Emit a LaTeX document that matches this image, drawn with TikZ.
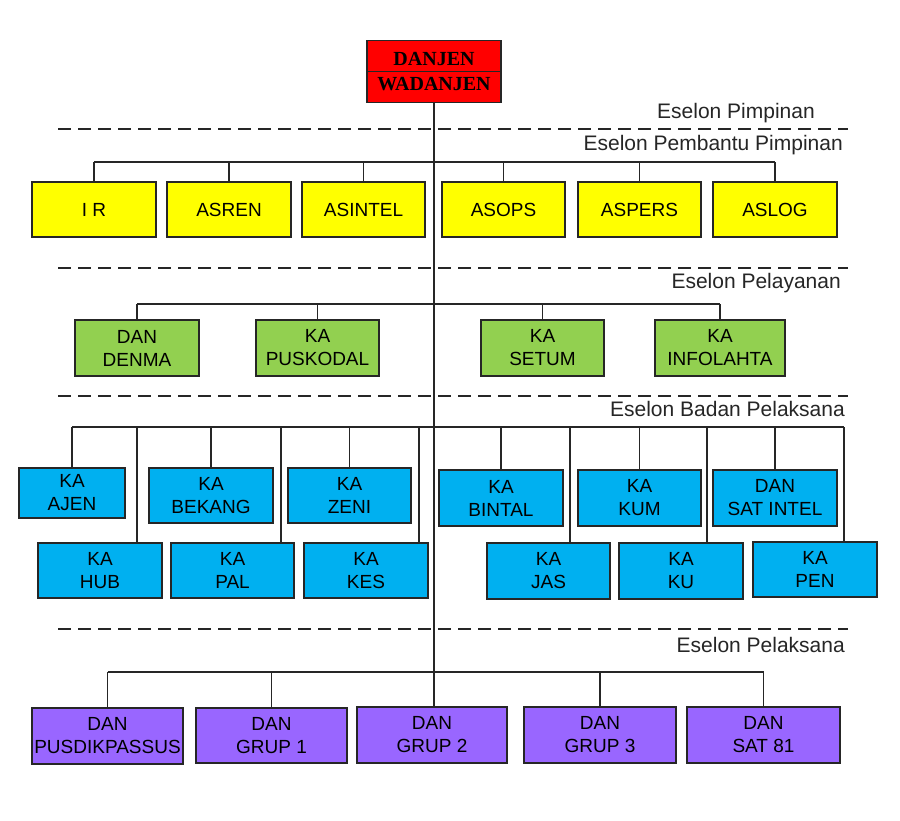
\documentclass[tikz,border=0pt]{standalone}
\usepackage{fontspec}
\setmainfont{Liberation Sans}
\newfontfamily\serifbold{Liberation Serif}
\definecolor{cyel}{HTML}{FFFF00}
\definecolor{cgrn}{HTML}{92D050}
\definecolor{cblu}{HTML}{00B0F0}
\definecolor{cpur}{HTML}{9966FF}
\definecolor{cred}{HTML}{FF0000}
\definecolor{cline}{HTML}{262626}
\begin{document}
\begin{tikzpicture}[x=1pt,y=-1pt,
  box/.style={draw=cline, line width=1.5pt, rectangle, inner sep=0pt, align=center,
    text=black, font=\fontsize{19}{23}\selectfont},
  wh/.style 2 args={minimum width=#1, minimum height=#2},
  ybox/.style={box, fill=cyel},
  gbox/.style={box, fill=cgrn},
  bbox/.style={box, fill=cblu},
  pbox/.style={box, fill=cpur},
  conn/.style={draw=cline, line width=1.5pt},
  sep/.style={draw=cline, line width=2pt, dash pattern=on 13pt off 7pt},
  eselon/.style={anchor=base east, inner sep=0pt, text=black!85, font=\fontsize{21}{25}\selectfont}]
\useasboundingbox[fill=white] (0,0) rectangle (900,820);

% top
\node[box, fill=cred, wh={134}{62}, font=\serifbold\bfseries\fontsize{20}{25}\selectfont] (top) at (434,71.5) {DANJEN\\WADANJEN};
\draw[conn] (top.west) -- (top.east);

% separators
\coordinate (s1a) at (58,129); \coordinate (s1b) at (848,129);
\coordinate (s2a) at (58,268); \coordinate (s2b) at (848,268);
\coordinate (s3a) at (58,396); \coordinate (s3b) at (848,396);
\coordinate (s4a) at (58,629); \coordinate (s4b) at (848,629);
\draw[sep] (s1a) -- (s1b);
\draw[sep] (s2a) -- (s2b);
\draw[sep] (s3a) -- (s3b);
\draw[sep] (s4a) -- (s4b);

\node[eselon] (e1) at (815,118) {Eselon Pimpinan};
\node[eselon] (e2) at (843,150) {Eselon Pembantu Pimpinan};
\node[eselon] (e3) at (841,288) {Eselon Pelayanan};
\node[eselon] (e4) at (845,416) {Eselon Badan Pelaksana};
\node[eselon] (e5) at (845,652) {Eselon Pelaksana};

% yellow row
\node[ybox, wh={124}{55}] (ir) at (94,209.5) {I R};
\node[ybox, wh={124}{55}] (asren) at (229,209.5) {ASREN};
\node[ybox, wh={123}{55}] (asintel) at (363.5,209.5) {ASINTEL};
\node[ybox, wh={123}{55}] (asops) at (503.5,209.5) {ASOPS};
\node[ybox, wh={123}{55}] (aspers) at (639.5,209.5) {ASPERS};
\node[ybox, wh={124}{55}] (aslog) at (775,209.5) {ASLOG};

% green row
\node[gbox, wh={124}{56}] (denma) at (137,348) {DAN\\DENMA};
\node[gbox, wh={123}{56}] (puskodal) at (317.5,348) {KA\\PUSKODAL};
\node[gbox, wh={123}{56}] (setum) at (542.5,348) {KA\\SETUM};
\node[gbox, wh={130}{56}] (infolahta) at (720,348) {KA\\INFOLAHTA};

% blue rows
\node[bbox, wh={106}{50}] (ajen) at (72,493) {KA\\AJEN};
\node[bbox, wh={124}{55}] (bekang) at (211,495.5) {KA\\BEKANG};
\node[bbox, wh={123}{55}] (zeni) at (349.5,495.5) {KA\\ZENI};
\node[bbox, wh={124}{56}] (bintal) at (501,498) {KA\\BINTAL};
\node[bbox, wh={123}{56}] (kum) at (639.5,498) {KA\\KUM};
\node[bbox, wh={124}{56}] (satintel) at (775,498) {DAN\\SAT INTEL};

\node[bbox, wh={124}{55}] (hub) at (100,570.5) {KA\\HUB};
\node[bbox, wh={123}{55}] (pal) at (232.5,570.5) {KA\\PAL};
\node[bbox, wh={124}{55}] (kes) at (366,570.5) {KA\\KES};
\node[bbox, wh={123}{56}] (jas) at (548.5,571) {KA\\JAS};
\node[bbox, wh={124}{56}] (ku) at (681,571) {KA\\KU};
\node[bbox, wh={124}{55}] (pen) at (815,569.5) {KA\\PEN};

% purple row
\node[pbox, wh={151}{56}] (pusdik) at (107.5,736) {DAN\\PUSDIKPASSUS};
\node[pbox, wh={151}{55}] (grup1) at (271.5,735.5) {DAN\\GRUP 1};
\node[pbox, wh={150}{56}] (grup2) at (432,735) {DAN\\GRUP 2};
\node[pbox, wh={152}{56}] (grup3) at (600,735) {DAN\\GRUP 3};
\node[pbox, wh={153}{56}] (sat81) at (763.5,735) {DAN\\SAT 81};

% trunk
\draw[conn] (top.south) -- (top.south |- grup2.north);

% bars
\coordinate (b1) at (434,162);
\coordinate (b2) at (434,304);
\coordinate (b3) at (434,427);
\coordinate (b4) at (434,672);

\draw[conn] (ir.north |- b1) -- (aslog.north |- b1);
\foreach \n in {ir,asren,asintel,asops,aspers,aslog}
  \draw[conn] (\n.north) -- (\n.north |- b1);

\draw[conn] (denma.north |- b2) -- (infolahta.north |- b2);
\foreach \n in {denma,puskodal,setum,infolahta}
  \draw[conn] (\n.north) -- (\n.north |- b2);

\coordinate (hubd) at ([xshift=37pt]hub.north);
\coordinate (pald) at ([xshift=48.5pt]pal.north);
\coordinate (kesd) at ([xshift=53pt]kes.north);
\coordinate (jasd) at ([xshift=21.5pt]jas.north);
\coordinate (kud) at ([xshift=26pt]ku.north);
\coordinate (pend) at ([xshift=29pt]pen.north);
\draw[conn] (ajen.north |- b3) -- (pend |- b3);
\foreach \n in {ajen.north,bekang.north,zeni.north,bintal.north,kum.north,satintel.north,hubd,pald,kesd,jasd,kud,pend}
  \draw[conn] (\n) -- (\n |- b3);

\draw[conn] (pusdik.north |- b4) -- (sat81.north |- b4);
\foreach \n in {pusdik,grup1,grup3,sat81}
  \draw[conn] (\n.north) -- (\n.north |- b4);
\end{tikzpicture}
\end{document}
